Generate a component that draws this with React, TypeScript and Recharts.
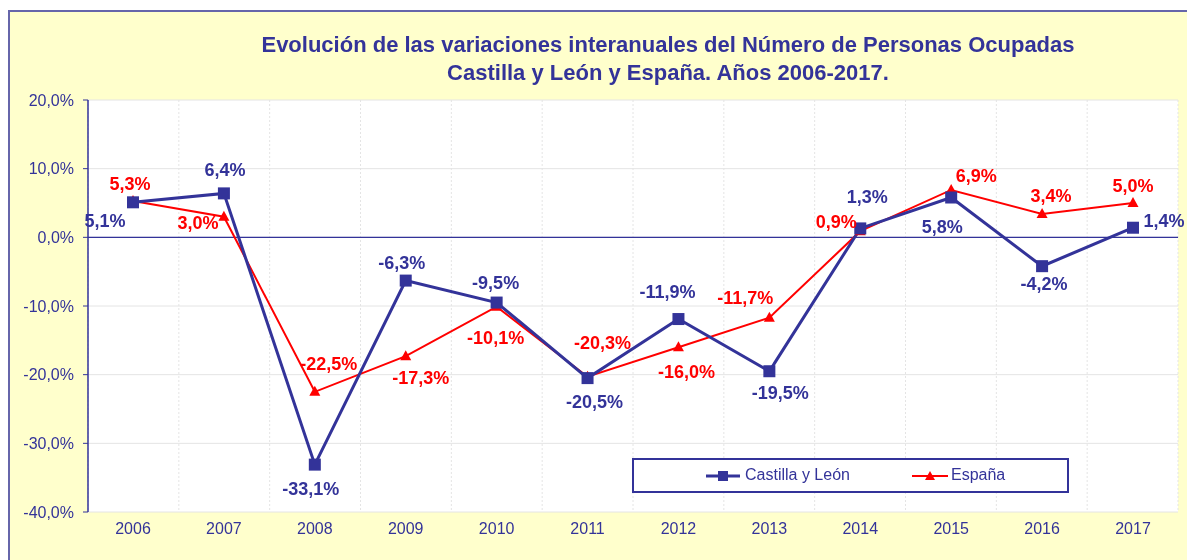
import React from "react";
import { LineChart, Line, XAxis, YAxis, CartesianGrid, ReferenceLine } from "recharts";

const years = ["2006", "2007", "2008", "2009", "2010", "2011", "2012", "2013", "2014", "2015", "2016", "2017"];
const castillaLeon = [5.1, 6.4, -33.1, -6.3, -9.5, -20.5, -11.9, -19.5, 1.3, 5.8, -4.2, 1.4];
const espana = [5.3, 3.0, -22.5, -17.3, -10.1, -20.3, -16.0, -11.7, 0.9, 6.9, 3.4, 5.0];
const yTicks = [-40, -30, -20, -10, 0, 10, 20];

// where each data label sits relative to its point (dx, dy in px)
const cylLabelOffset: [number, number][] = [
  [-28, 19], [1, -23], [-4, 24], [-4, -18], [-1, -20], [7, 24],
  [-11, -27], [11, 22], [7, -31], [-9, 29], [2, 18], [31, -7],
];
const espLabelOffset: [number, number][] = [
  [-3, -17], [-26, 6], [14, -28], [15, 22], [-1, 31], [15, -34],
  [8, 25], [-24, -20], [-24, -9], [25, -14], [9, -18], [0, -17],
];

const BLUE = "#333399";
const RED = "#FF0000";
const FONT = "'Liberation Sans', Arial, sans-serif";

const data = years.map((y, i) => ({ year: y, cyl: castillaLeon[i], esp: espana[i] }));

const fmt = (v: number) => v.toFixed(1).replace(".", ",") + "%";

const makeLabel = (values: number[], offsets: [number, number][], color: string) => (props: any) => {
  const { x, y, index } = props;
  const [dx, dy] = offsets[index];
  return (
    <text
      key={`l-${color}-${index}`}
      x={x + dx}
      y={y + dy}
      textAnchor="middle"
      dominantBaseline="central"
      fill={color}
      fontSize={18}
      fontWeight="bold"
      fontFamily={FONT}
    >
      {fmt(values[index])}
    </text>
  );
};

const SquareDot = (p: any) => (
  <rect key={`s-${p.index}`} x={p.cx - 6} y={p.cy - 6} width={12} height={12} fill={BLUE} />
);

const TriangleDot = (p: any) => (
  <polygon
    key={`t-${p.index}`}
    points={`${p.cx},${p.cy - 6} ${p.cx + 5.5},${p.cy + 4} ${p.cx - 5.5},${p.cy + 4}`}
    fill={RED}
  />
);

function ChartLegend() {
  return (
    <div
      style={{
        position: "absolute",
        left: 622,
        top: 446,
        width: 433,
        height: 31,
        border: `2px solid ${BLUE}`,
        background: "#fff",
        fontFamily: FONT,
        fontSize: 16,
        color: BLUE,
      }}
    >
      <svg width={40} height={14} style={{ position: "absolute", left: 72, top: 9 }}>
        <line x1={0} y1={7} x2={34} y2={7} stroke={BLUE} strokeWidth={3} />
        <rect x={12} y={2} width={10} height={10} fill={BLUE} />
      </svg>
      <span style={{ position: "absolute", left: 111, top: 6 }}>Castilla y León</span>
      <svg width={40} height={14} style={{ position: "absolute", left: 278, top: 9 }}>
        <line x1={0} y1={7} x2={36} y2={7} stroke={RED} strokeWidth={2} />
        <polygon points="18,2 23,11 13,11" fill={RED} />
      </svg>
      <span style={{ position: "absolute", left: 317, top: 6 }}>España</span>
    </div>
  );
}

const titleStyle: React.CSSProperties = {
  position: "absolute",
  left: 0,
  width: 1316,
  textAlign: "center",
  fontFamily: FONT,
  fontWeight: "bold",
  fontSize: 22,
  color: BLUE,
  lineHeight: "28px",
  whiteSpace: "nowrap",
};

export default function App() {
  return (
    <div
      style={{
        position: "fixed",
        left: 8,
        top: 10,
        width: 1186,
        height: 560,
        border: "2px solid #6666aa",
        background: "#FFFFCC",
      }}
    >
      <div style={{ ...titleStyle, top: 19 }}>
        Evolución de las variaciones interanuales del Número de Personas Ocupadas
      </div>
      <div style={{ ...titleStyle, top: 47 }}>
        Castilla y León y España. Años 2006-2017.
      </div>
      <LineChart
        width={1186}
        height={548}
        data={data}
        margin={{ top: 88, right: 18, bottom: 18, left: 0 }}
        style={{ position: "absolute", left: 0, top: 0 }}
      >
        <CartesianGrid vertical={false} stroke="#e4e4e4" fill="#ffffff" />
        <CartesianGrid
          horizontal={false}
          stroke="#e4e4e4"
          strokeDasharray="2 2"
          verticalCoordinatesGenerator={({ offset }: any) =>
            Array.from({ length: years.length + 1 }, (_, i) => offset.left + (i * offset.width) / years.length)
          }
        />
        <XAxis
          dataKey="year"
          height={30}
          padding={{ left: 45, right: 45 }}
          axisLine={false}
          tickLine={false}
          tickSize={0}
          tickMargin={11}
          tick={{ fill: BLUE, fontSize: 16, fontFamily: FONT }}
          interval={0}
        />
        <YAxis
          width={78}
          domain={[-40, 20]}
          ticks={yTicks}
          tickFormatter={fmt}
          axisLine={{ stroke: BLUE, strokeWidth: 1.5 }}
          tickLine={{ stroke: BLUE }}
          tickSize={5}
          tickMargin={9}
          tick={{ fill: BLUE, fontSize: 16, fontFamily: FONT }}
          interval={0}
        />
        <ReferenceLine y={0} stroke={BLUE} strokeWidth={1.2} />
        <Line
          dataKey="esp"
          stroke={RED}
          strokeWidth={2}
          dot={TriangleDot}
          activeDot={false}
          label={makeLabel(espana, espLabelOffset, RED)}
          isAnimationActive={false}
        />
        <Line
          dataKey="cyl"
          stroke={BLUE}
          strokeWidth={3}
          dot={SquareDot}
          activeDot={false}
          label={makeLabel(castillaLeon, cylLabelOffset, BLUE)}
          isAnimationActive={false}
        />
      </LineChart>
      <ChartLegend />
    </div>
  );
}
